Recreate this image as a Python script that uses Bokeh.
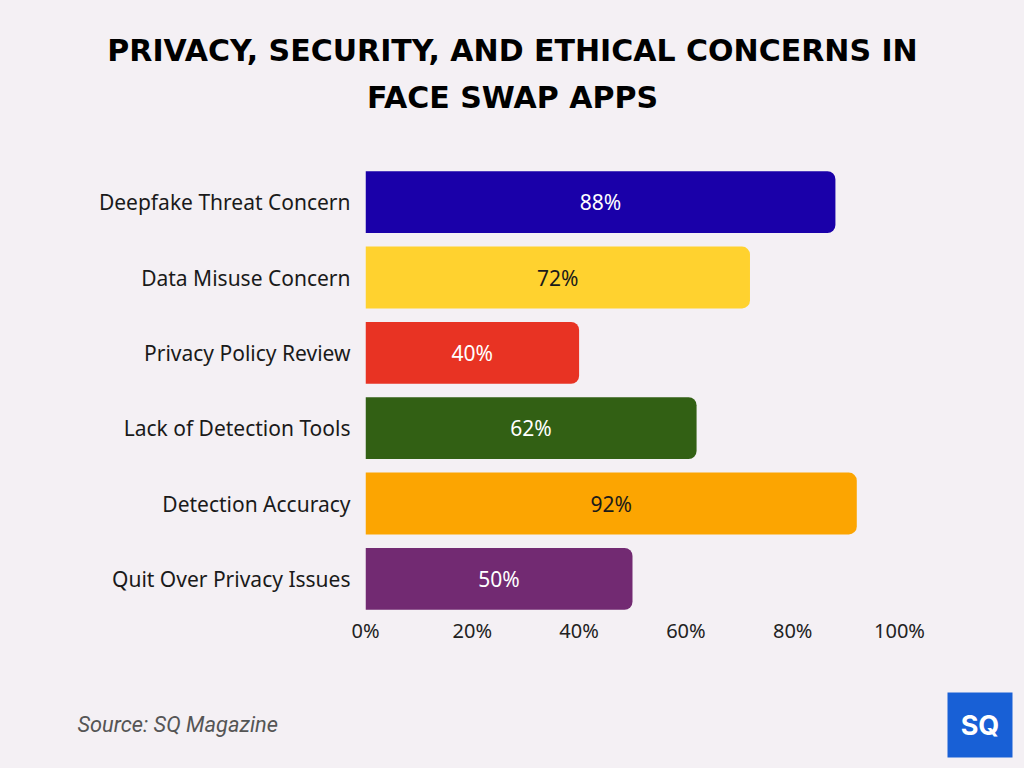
from bokeh.plotting import figure
from bokeh.layouts import column
from bokeh.models import Range1d, FactorRange, FixedTicker, ColumnDataSource
from bokeh.embed import file_html
from bokeh.resources import INLINE
from bokeh.core.properties import value

categories = ["Deepfake Threat Concern", "Data Misuse Concern", "Privacy Policy Review",
              "Lack of Detection Tools", "Detection Accuracy", "Quit Over Privacy Issues"]
values = [88, 72, 40, 62, 92, 50]
bar_colors = ["#1a00a9", "#ffd22f", "#e83323", "#326014", "#fca501", "#722a72"]
label_colors = ["#ffffff", "#1a1a1a", "#ffffff", "#ffffff", "#1a1a1a", "#ffffff"]
tick_values = [0, 20, 40, 60, 80, 100]
tick_labels = ["0%", "20%", "40%", "60%", "80%", "100%"]
title_lines = ["PRIVACY, SECURITY, AND ETHICAL CONCERNS IN", "FACE SWAP APPS"]
source_text = "Source: SQ Magazine"

BG = "#f4f0f4"
W = 1024
TOP_H, MAIN_H, BOT_H = 140, 530, 98


def plain(fig):
    fig.background_fill_color = BG
    fig.border_fill_color = BG
    fig.outline_line_color = None
    fig.grid.visible = False
    fig.axis.visible = False
    return fig


# ---- title band
t = plain(figure(width=W, height=TOP_H, output_backend="svg", toolbar_location=None,
                 x_range=Range1d(0, W), y_range=Range1d(TOP_H, 0), min_border=0,
                 frame_align=False))
t.text(x=[512, 512], y=[50, 97], text=title_lines, text_align="center",
       text_baseline="middle", text_font=value("DejaVu Sans"), text_font_style="bold",
       text_font_size="30px", text_color="#000000")

# ---- main chart
p = figure(width=W, height=MAIN_H, output_backend="svg", toolbar_location=None,
           x_range=Range1d(0, 100), y_range=FactorRange(*reversed(categories)),
           min_border_left=365, min_border_right=125, min_border_top=24,
           min_border_bottom=54, frame_align=False)
p.background_fill_color = BG
p.border_fill_color = BG
p.outline_line_color = None
p.grid.visible = False

src = ColumnDataSource(dict(cat=categories, val=values, color=bar_colors,
                            lc=label_colors, mid=[v / 2 for v in values],
                            txt=[f"{v}%" for v in values]))
p.hbar(y="cat", right="val", left=0, height=0.82, fill_color="color", line_color=None,
       source=src, border_radius=(0, 8, 8, 0))
p.text(x="mid", y="cat", text="txt", text_color="lc", source=src,
       text_align="center", text_baseline="middle",
       text_font=value("Noto Sans"), text_font_size="21px")

xa = p.xaxis[0]
xa.ticker = FixedTicker(ticks=tick_values)
xa.major_label_overrides = {tv: tl for tv, tl in zip(tick_values, tick_labels)}
xa.axis_line_color = None
xa.major_tick_line_color = None
xa.minor_tick_line_color = None
xa.major_label_text_font = "Noto Sans"
xa.major_label_text_font_size = "20px"
xa.major_label_text_color = "#222222"
xa.major_label_standoff = -6

ya = p.yaxis[0]
ya.axis_line_color = None
ya.major_tick_line_color = None
ya.minor_tick_line_color = None
ya.major_label_text_font = "Noto Sans"
ya.major_label_text_font_size = "21px"
ya.major_label_text_color = "#1a1a1a"
ya.major_label_standoff = 9

# ---- footer band
b = plain(figure(width=W, height=BOT_H, output_backend="svg", toolbar_location=None,
                 x_range=Range1d(0, W), y_range=Range1d(BOT_H, 0), min_border=0,
                 frame_align=False))
b.text(x=[77], y=[54], text=[source_text], text_align="left", text_baseline="middle",
       text_font=value("Roboto"), text_font_style="italic", text_font_size="21.8px",
       text_color="#555555")
b.rect(x=[979.5], y=[54.5], width=65, height=65, fill_color="#1860d6", line_color=None)
b.text(x=[979.5], y=[55], text=["SQ"], text_align="center", text_baseline="middle",
       text_font=value("Inter"), text_font_style="bold", text_font_size="27px",
       text_color="#ffffff")

layout = column(t, p, b, spacing=0, styles={"background-color": BG})
open("out.html", "w").write(file_html(layout, INLINE))
